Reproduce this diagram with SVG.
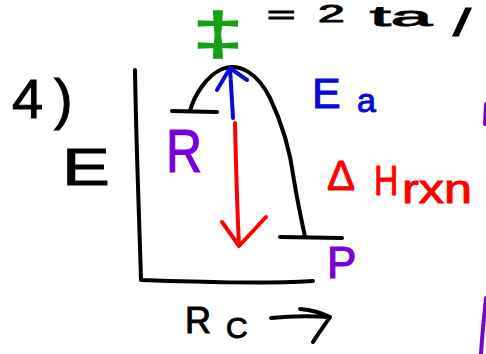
<svg xmlns="http://www.w3.org/2000/svg" width="486" height="354" viewBox="0 0 486 354">
<style>
.s{fill:none;stroke-linecap:round;stroke-linejoin:round;stroke-width:4}
.k{stroke:#000}
.b{stroke:#0a0ad8}
.r{stroke:#ff0000}
.p{stroke:#7a00d8}
text{font-family:"Liberation Sans",Arial,sans-serif}
.tk{fill:#000;stroke:#000;stroke-width:1}
.tb{fill:#0a0ad8;stroke:#0a0ad8;stroke-width:1}
.tr{fill:#ff0000;stroke:#ff0000;stroke-width:1}
.tp{fill:#7a00d8;stroke:#7a00d8;stroke-width:1.2}
.tg{fill:#16a016;stroke:#16a016;stroke-width:1.5}
</style>
<rect width="486" height="354" fill="#fff"/>
<g id="header">
<text class="tk" transform="translate(267,23) scale(1.95,1)" font-size="25">=</text>
<text class="tk" transform="translate(318,22) scale(2,1)" font-size="24">2</text>
<text class="tk" x="370" y="26" font-size="28" textLength="62" lengthAdjust="spacingAndGlyphs">ta</text>
<text class="tk" transform="translate(453,36) scale(1.66,1)" font-size="39">/</text>
<text class="tk" x="12" y="118" font-size="56">4<tspan x="54">)</tspan></text>
</g>
<g id="axes">
<path class="s k" d="M135,70 C136,140 139,210 141,280 C200,282 260,284 313,281"/>
<text class="tk" transform="translate(62,185) scale(1.38,1)" font-size="52">E</text>
<text class="tk" x="185" y="333" font-size="36">R</text>
<text class="tk" x="226" y="338" font-size="30">C</text>
<path class="s k" d="M271,318 C290,316 312,316 330,317 C324,326 318,334 313,342 M300,309 C312,310 322,313 330,317"/>
</g>
<g id="curve">
<path class="s k" d="M172,111 L217,112"/>
<path class="s k" d="M190,111 C194,96 206,76 222,69 C240,62 258,74 270,98 C283,125 290,150 294,180 C298,205 302,222 305,237"/>
<path class="s k" d="M280,237 L342,238"/>
</g>
<g id="transition-state">
<text class="tg" transform="translate(218,54) scale(1.6,1.05)" font-size="56" text-anchor="middle">‡</text>
</g>
<g id="reactants">
<text class="tp" transform="translate(166,172) scale(0.82,1)" font-size="61">R</text>
</g>
<g id="products">
<text class="tp" x="327" y="278" font-size="44">P</text>
</g>
<g id="connectors">
<path class="s b" d="M233,118 C232,100 231,84 230,68 M217,90 L230,68 L247,80"/>
<path class="s r" d="M235,123 C236,165 237,205 239,246 M222,222 L239,246 L266,217"/>
</g>
<g id="labels">
<text class="tb" x="312" y="108" font-size="43">E</text>
<text class="tb" x="357" y="112" font-size="34">a</text>
<text class="tr" x="327" y="190" font-size="42">Δ</text>
<text class="tr" transform="translate(374,195) scale(0.8,1)" font-size="42">H</text>
<text class="tr" x="402" y="203" font-size="40" textLength="70" lengthAdjust="spacingAndGlyphs">rxn</text>
</g>
<g id="margin">
<path class="s p" d="M486,104 L485,124"/>
<path class="s p" d="M486,298 C484,318 482,336 481,354"/>
</g>
</svg>
